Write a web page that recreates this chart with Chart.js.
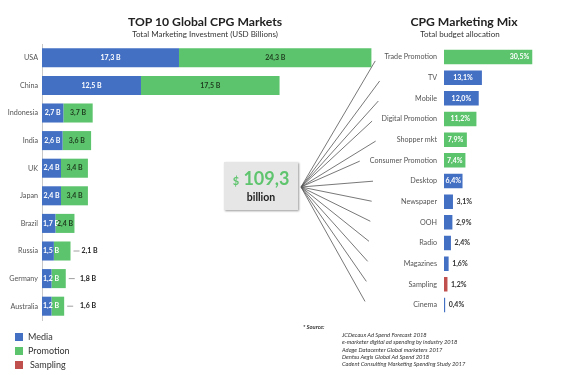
<!DOCTYPE html>
<html>
<head>
<meta charset="utf-8">
<script src="https://cdn.jsdelivr.net/npm/chart.js@4/dist/chart.umd.min.js"></script>
<style>
  html, body { margin: 0; padding: 0; background: #fff; }
  #wrap { position: relative; width: 567px; height: 375px; overflow: hidden; font-family: Lato, "Open Sans", sans-serif; }
  canvas { position: absolute; top: 0; }
  #leftChart { left: 0; }
  #rightChart { left: 290px; }
  .title { position: absolute; text-align: center; font-weight: bold; color: #222; font-size: 12.2px; line-height: 16px; white-space: nowrap; }
  .sub { position: absolute; text-align: center; color: #333; font-size: 8px; line-height: 10px; white-space: nowrap; }
  #box { position: absolute; left: 224px; top: 162px; width: 74px; height: 48px; background: #e6e6e6; box-shadow: 1px 1px 2px rgba(0,0,0,0.4); text-align: center; }
  #box .amt { position: absolute; left: 0; width: 74px; top: 6px; line-height: 20px; color: #5fc46e; font-weight: bold; font-size: 18px; white-space: nowrap; }
  #box .amt span { font-size: 11px; }
  #box .bil { position: absolute; left: 0; width: 74px; top: 29px; line-height: 12px; color: #222; font-weight: bold; font-size: 10.5px; }
  .leg { position: absolute; font-size: 9px; color: #333; line-height: 10px; }
  .leg i { position: absolute; width: 8px; height: 8px; left: -13px; top: 1px; }
  .src { position: absolute; font-size: 5.8px; font-style: italic; color: #333; line-height: 7.2px; white-space: nowrap; }
</style>
</head>
<body>
<div id="wrap">
  <canvas id="leftChart" width="392" height="375"></canvas>
  <canvas id="rightChart" width="277" height="375"></canvas>

  <div class="title" style="left:105px;width:200px;top:14px;">TOP 10 Global CPG Markets</div>
  <div class="sub" style="left:105px;width:200px;top:29px;">Total Marketing Investment (USD Billions)</div>
  <div class="title" style="left:364px;width:200px;top:14px;">CPG Marketing Mix</div>
  <div class="sub" style="left:360px;width:200px;top:29px;">Total budget allocation</div>

  <div id="box"><div class="amt"><span>$</span> 109,3</div><div class="bil">billion</div></div>

  <div id="legend"></div>

  <div class="src" style="left:303px;top:323px;font-weight:bold;">* Source:</div>
  <div id="sources"></div>
</div>
<script>
// ---------- DATA ----------
const countries = ['USA','China','Indonesia','India','UK','Japan','Brazil','Russia','Germany','Australia'];
const mediaSpend = [17.3, 12.5, 2.7, 2.6, 2.4, 2.4, 1.7, 1.5, 1.2, 1.2];
const promotionSpend = [24.3, 17.5, 3.7, 3.6, 3.4, 3.4, 2.4, 2.1, 1.8, 1.6];

const channels = ['Trade Promotion','TV','Mobile','Digital Promotion','Shopper mkt','Consumer Promotion','Desktop','Newspaper','OOH','Radio','Magazines','Sampling','Cinema'];
const channelShare = [30.5, 13.1, 12.0, 11.2, 7.9, 7.4, 6.4, 3.1, 2.9, 2.4, 1.6, 1.2, 0.4];
const channelType = ['Promotion','Media','Media','Promotion','Promotion','Promotion','Media','Media','Media','Media','Media','Sampling','Media'];

const legendItems = ['Media','Promotion','Sampling'];
const sourceLines = [
  'JCDecaux Ad Spend Forecast 2018',
  'e-marketer digital ad spending by industry 2018',
  'Adage Datacenter Global marketers 2017',
  'Dentsu Aegis Global Ad Spend 2018',
  'Cadent Consulting Marketing Spending Study 2017'
];

// ---------- STYLE ----------
const COLORS = { Media: '#4470c4', Promotion: '#5cc46c', Sampling: '#c0504d' };
const FONT = 'Lato, "Open Sans", sans-serif';
const fmt = v => v.toFixed(1).replace('.', ',');

// legend
const legEl = document.getElementById('legend');
legendItems.forEach((name, i) => {
  const d = document.createElement('div');
  d.className = 'leg';
  d.style.left = (name === 'Sampling' ? 30 : 28) + 'px';
  d.style.top = (332 + i * 14) + 'px';
  d.innerHTML = '<i style="background:' + COLORS[name] + ';left:' + (name === 'Sampling' ? -15 : -13) + 'px"></i>' + name;
  legEl.appendChild(d);
});
const srcEl = document.getElementById('sources');
sourceLines.forEach((t, i) => {
  const d = document.createElement('div');
  d.className = 'src';
  d.style.left = '342px';
  d.style.top = (331 + i * 7.3) + 'px';
  d.textContent = t;
  srcEl.appendChild(d);
});

// ---------- LEFT CHART ----------
const leftLabels = {
  id: 'leftLabels',
  afterDatasetsDraw(chart) {
    const ctx = chart.ctx;
    ctx.save();
    ctx.font = 'bold 7px ' + FONT;
    ctx.textBaseline = 'middle';
    chart.data.datasets.forEach((ds, di) => {
      chart.getDatasetMeta(di).data.forEach((bar, i) => {
        const p = bar.getProps(['x', 'base', 'y'], true);
        const w = p.x - p.base;
        const txt = fmt(ds.data[i]) + ' B';
        const tw = ctx.measureText(txt).width;
        if (di === 0) {
          ctx.fillStyle = '#fff';
          ctx.textAlign = 'center';
          ctx.fillText(txt, Math.max((p.x + p.base) / 2, p.base + tw / 2 + 1), p.y);
        } else if (w >= 18) {
          ctx.fillStyle = '#1e3a1e';
          ctx.textAlign = 'center';
          ctx.fillText(txt, (p.x + p.base) / 2, p.y);
        } else {
          ctx.strokeStyle = '#888';
          ctx.lineWidth = 0.8;
          ctx.beginPath();
          ctx.moveTo(p.x + 3, p.y);
          ctx.lineTo(p.x + 9, p.y);
          ctx.stroke();
          ctx.fillStyle = '#222';
          ctx.textAlign = 'left';
          ctx.fillText(txt, Math.max(p.x + 11, 80), p.y);
        }
      });
    });
    ctx.restore();
  }
};

new Chart(document.getElementById('leftChart'), {
  type: 'bar',
  data: {
    labels: countries,
    datasets: [
      { label: 'Media', data: mediaSpend, backgroundColor: COLORS.Media },
      { label: 'Promotion', data: promotionSpend, backgroundColor: COLORS.Promotion }
    ]
  },
  options: {
    indexAxis: 'y',
    responsive: false,
    animation: false,
    events: [],
    layout: { padding: { top: 44, bottom: 55, left: 0, right: 0 } },
    datasets: { bar: { barPercentage: 0.69, categoryPercentage: 1 } },
    plugins: { legend: { display: false }, tooltip: { enabled: false } },
    scales: {
      x: { stacked: true, min: 0, max: 44.2, display: false },
      y: {
        stacked: true,
        grid: { display: false, drawTicks: false },
        border: { display: true, color: '#c8c8c8', width: 1 },
        ticks: { color: '#555', font: { family: FONT, size: 7.2 }, padding: 4 },
        afterFit(scale) { scale.width = 42; }
      }
    }
  },
  plugins: [leftLabels]
});

// ---------- RIGHT CHART ----------
const rightDecor = {
  id: 'rightDecor',
  afterDatasetsDraw(chart) {
    const ctx = chart.ctx;
    const meta = chart.getDatasetMeta(0);
    const ds = chart.data.datasets[0];
    const yScale = chart.scales.y;
    ctx.save();
    // value labels
    ctx.font = 'bold 7px ' + FONT;
    ctx.textBaseline = 'middle';
    meta.data.forEach((bar, i) => {
      const p = bar.getProps(['x', 'base', 'y'], true);
      const txt = fmt(ds.data[i]) + '%';
      const w = p.x - p.base;
      if (i === 0) {
        ctx.fillStyle = '#fff'; ctx.textAlign = 'right';
        ctx.fillText(txt, p.x - 3, p.y);
      } else if (w >= 17) {
        ctx.fillStyle = '#fff'; ctx.textAlign = 'center';
        ctx.fillText(txt, (p.x + p.base) / 2, p.y);
      } else {
        ctx.fillStyle = '#333'; ctx.textAlign = 'left';
        ctx.fillText(txt, p.x + 3.5, p.y);
      }
    });
    // fan lines from the total box to each category label
    ctx.font = '7.5px ' + FONT;
    const ox = 11, oy = 187;
    const n = chart.data.labels.length;
    ctx.strokeStyle = '#555';
    ctx.lineWidth = 0.8;
    chart.data.labels.forEach((lab, i) => {
      const y = yScale.getPixelForValue(i);
      const labelLeft = yScale.right - 7 - ctx.measureText(lab).width;
      const endX = Math.min(91 - 16 * i / (n - 1), labelLeft - 7);
      const endY = oy + (y - oy) * 0.97;
      ctx.beginPath();
      ctx.moveTo(ox, oy);
      ctx.lineTo(endX, endY);
      ctx.stroke();
    });
    ctx.restore();
  }
};

new Chart(document.getElementById('rightChart'), {
  type: 'bar',
  data: {
    labels: channels,
    datasets: [{
      label: 'Share',
      data: channelShare,
      backgroundColor: channelType.map(t => COLORS[t])
    }]
  },
  options: {
    indexAxis: 'y',
    responsive: false,
    animation: false,
    events: [],
    layout: { padding: { top: 46.7, bottom: 59.7, left: 0, right: 0 } },
    datasets: { bar: { barPercentage: 0.7, categoryPercentage: 1 } },
    plugins: { legend: { display: false }, tooltip: { enabled: false } },
    scales: {
      x: { min: 0, max: 42.5, display: false },
      y: {
        grid: { display: false, drawTicks: false },
        border: { display: false },
        ticks: { color: '#555', font: { family: FONT, size: 7.2 }, padding: 7 },
        afterFit(scale) { scale.width = 154; }
      }
    }
  },
  plugins: [rightDecor]
});
</script>
</body>
</html>
